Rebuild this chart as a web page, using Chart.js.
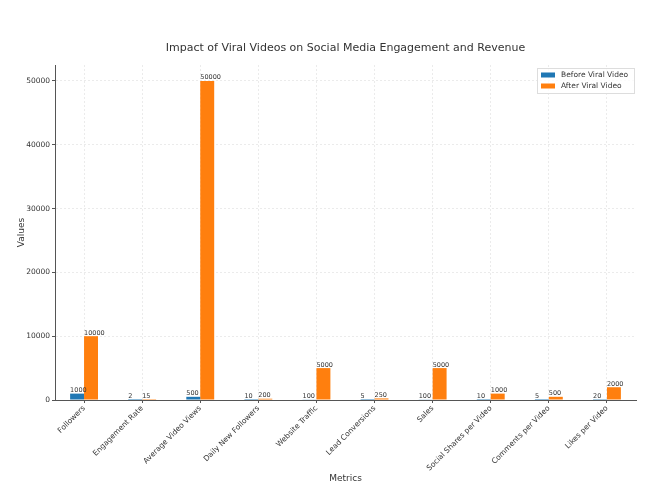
<!DOCTYPE html>
<html>
<head>
<meta charset="utf-8">
<script src="https://cdn.jsdelivr.net/npm/chart.js@4"></script>
<style>
  html, body { margin: 0; padding: 0; background: #fff; }
  #wrap { width: 648px; height: 488px; }
</style>
</head>
<body>
<div id="wrap"><canvas id="myChart" width="648" height="488"></canvas></div>
<script>
const categories = ["Followers", "Engagement Rate", "Average Video Views", "Daily New Followers",
  "Website Traffic", "Lead Conversions", "Sales", "Social Shares per Video",
  "Comments per Video", "Likes per Video"];
const beforeValues = [1000, 2, 500, 10, 100, 5, 100, 10, 5, 20];
const afterValues = [10000, 15, 50000, 200, 5000, 250, 5000, 1000, 500, 2000];
const yTicks = [0, 10000, 20000, 30000, 40000, 50000];

const FONT = "'DejaVu Sans', sans-serif";

// value labels above each bar, starting at the bar's left edge
const barLabels = {
  id: 'barLabels',
  afterDatasetsDraw(chart) {
    const c = chart.ctx;
    c.save();
    c.font = '6.5px ' + FONT;
    c.fillStyle = '#333';
    c.textAlign = 'left';
    c.textBaseline = 'bottom';
    chart.data.datasets.forEach((ds, i) => {
      chart.getDatasetMeta(i).data.forEach((bar, j) => {
        c.fillText(String(ds.data[j]), bar.x - bar.width / 2, bar.y);
      });
    });
    c.restore();
  }
};

// title + legend inside the plot, matplotlib style
const decor = {
  id: 'decor',
  afterDraw(chart) {
    const c = chart.ctx;
    const a = chart.chartArea;
    c.save();
    c.font = '11px ' + FONT;
    c.fillStyle = '#333';
    c.textAlign = 'center';
    c.textBaseline = 'middle';
    c.fillText('Impact of Viral Videos on Social Media Engagement and Revenue', (a.left + a.right) / 2, 48);

    // legend box
    const bx = 537, by = 68, bw = 97, bh = 25;
    c.fillStyle = 'rgba(255,255,255,0.8)';
    c.strokeStyle = '#ddd';
    c.lineWidth = 1;
    c.fillRect(bx, by, bw, bh);
    c.strokeRect(bx + 0.5, by + 0.5, bw, bh);
    c.font = '7.5px ' + FONT;
    c.textAlign = 'left';
    chart.data.datasets.forEach((ds, i) => {
      const yy = by + 7 + i * 11;
      c.fillStyle = ds.backgroundColor;
      c.fillRect(bx + 4, yy - 2.5, 14, 5);
      c.fillStyle = '#333';
      c.fillText(ds.label, bx + 24, yy);
    });
    c.restore();
  }
};

const ctx = document.getElementById('myChart').getContext('2d');
new Chart(ctx, {
  type: 'bar',
  data: {
    labels: categories,
    datasets: [
      { label: 'Before Viral Video', data: beforeValues, backgroundColor: '#1f77b4' },
      { label: 'After Viral Video', data: afterValues, backgroundColor: '#ff7f0e' }
    ]
  },
  options: {
    responsive: false,
    animation: false,
    layout: { padding: { top: 65, right: 12, left: 0, bottom: 0 } },
    categoryPercentage: 0.48,
    barPercentage: 1.0,
    plugins: {
      legend: { display: false },
      title: { display: false },
      tooltip: { enabled: false }
    },
    scales: {
      x: {
        grid: { offset: false, color: '#ebebeb', drawTicks: true, tickLength: 3, tickColor: '#555' },
        border: { color: '#555', width: 1, dash: [2, 2] },
        ticks: { font: { family: FONT, size: 7.5 }, color: '#333', maxRotation: 45, minRotation: 45, autoSkip: false, padding: 1 },
        title: { display: true, text: 'Metrics', font: { family: FONT, size: 9 }, color: '#333', padding: { top: 2, bottom: 4 } },
        afterFit(scale) { scale.height = 88; }
      },
      y: {
        min: 0,
        max: 52500,
        afterBuildTicks(scale) { scale.ticks = yTicks.map(v => ({ value: v })); },
        grid: { color: '#ebebeb', tickLength: 3, tickColor: '#555' },
        border: { color: '#555', width: 1, dash: [2, 2] },
        ticks: { font: { family: FONT, size: 7.5 }, color: '#333', padding: 2, callback: v => String(v) },
        title: { display: true, text: 'Values', font: { family: FONT, size: 9 }, color: '#333', padding: { top: 16, bottom: 4 } },
        afterFit(scale) { scale.width = 55; }
      }
    }
  },
  plugins: [barLabels, decor]
});
</script>
</body>
</html>
